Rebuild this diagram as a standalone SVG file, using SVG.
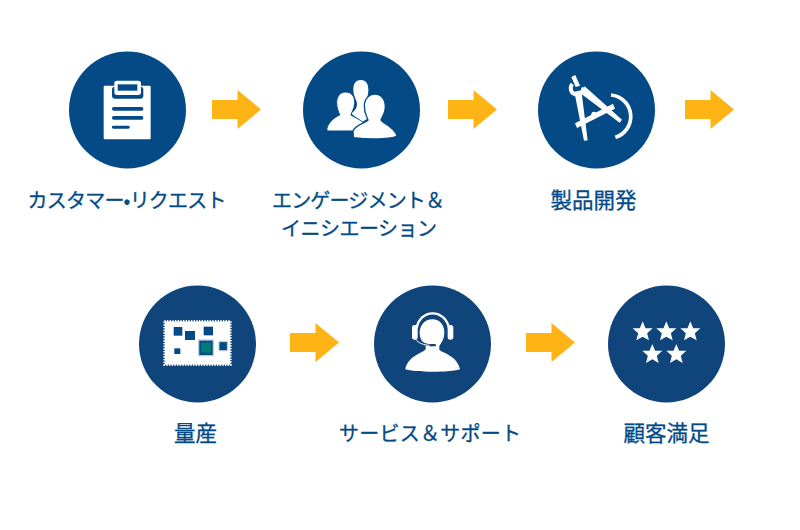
<svg xmlns="http://www.w3.org/2000/svg" width="800" height="530" viewBox="0 0 800 530">
<style>
.top{fill:#034a86}
.bot{fill:#10457c}
.w{fill:#fff}
.b{fill:#034a86}
.arrow{fill:#feb415}
text{font-family:"Noto Sans CJK JP","Noto Sans CJK SC",sans-serif;font-weight:400;font-size:20px;fill:#034a86;stroke:#034a86;stroke-width:.3px;text-anchor:middle}
.k{font-size:21.500px}
</style>
<defs>
<polygon id="star" points="0,-31 8.500,-10.500 30,-10.500 13.500,4.500 19,26 0,15 -19,26 -13.500,4.500 -30,-10.500 -8.500,-10.500"/>
<polygon id="arr" points="0,-9.500 25.500,-9.500 25.500,-19.500 49,0 25.500,19.500 25.500,9.500 0,9.500"/>
</defs>
<rect width="800" height="530" fill="#fff"/>
<g id="connectors" class="arrow">
<use href="#arr" x="212" y="109.500"/>
<use href="#arr" x="448" y="109.500"/>
<use href="#arr" x="685" y="109.500"/>
<use href="#arr" x="290" y="342.500"/>
<use href="#arr" x="526" y="342.500"/>
</g>
<g id="node-request">
<circle class="top" cx="127.500" cy="110" r="58.500"/>
<g transform="translate(60,40) scale(.33333)">
<rect class="w" x="131" y="137" width="141" height="161" rx="3"/>
<rect class="b" x="156" y="140" width="94" height="36" rx="9"/>
<rect class="w" x="163" y="122" width="80" height="43" rx="8"/>
<rect class="b" x="173" y="133" width="59" height="19"/>
<rect class="b" x="156" y="201" width="94" height="11" rx="5"/>
<rect class="b" x="156" y="228" width="94" height="11" rx="5"/>
<rect class="b" x="156" y="257" width="53" height="9" rx="4"/>
</g>
<text x="127" y="208" textLength="199" lengthAdjust="spacing">カスタマー•リクエスト</text>
</g>
<g id="node-engagement">
<circle class="top" cx="361.500" cy="110" r="58.500"/>
<g transform="translate(295,45) scale(.33333)">
<path class="w" d="M197 105C214 105 221 118 220 138C219 160 208 178 208 195C208 205 212 212 222 218L200 232L168 205C180 198 186 190 186 178C186 165 175 155 175 135C175 116 182 105 197 105Z"/>
<path class="w" stroke="#034a86" stroke-width="3" d="M152 141C170 141 180 155 179 175C178 192 170 200 168 210C175 216 195 222 208 236L205 258L96 258C92 240 115 218 134 210C131 200 125 190 125 173C125 155 135 141 152 141Z"/>
<path class="w" stroke="#034a86" stroke-width="4" d="M240 147C258 147 271 162 271 185C271 203 262 215 258 225C262 235 298 245 306 272C300 280 240 286 175 278L174 258C180 240 210 235 219 225C215 215 208 203 208 183C208 162 222 147 240 147Z"/>
</g>
<text x="358.500" y="208" textLength="173" lengthAdjust="spacing">エンゲージメント＆</text>
<text x="359" y="235.500" textLength="156" lengthAdjust="spacing">イニシエーション</text>
</g>
<g id="node-development">
<circle class="top" cx="596.500" cy="110" r="58.500"/>
<g transform="translate(530,45) scale(.33333)">
<path fill="none" stroke="#fff" stroke-width="11" d="M243 150A65 65 0 0 1 256 277"/>
<path fill="none" stroke="#fff" stroke-width="12" d="M127 117A19 19 0 1 0 160 127"/>
<path class="w" d="M124 96L136 90L150 122L137 126Z"/>
<path class="w" d="M133 140L154 136L173 286L162 287Z"/>
<path class="w" d="M150 144L164 124L276 224L269 233Z"/>
<path class="w" d="M135 235L249 176L255 191L141 249Z"/>
<circle class="w" cx="192" cy="208" r="8"/>
</g>
<text x="593.500" y="208" class="k">製品開発</text>
</g>
<g id="node-production">
<circle class="bot" cx="197.500" cy="344" r="58.500"/>
<g transform="translate(130,280) scale(.33333)">
<rect class="w" x="104" y="124" width="197" height="130"/>
<rect fill="none" stroke="#fff" stroke-width="6" stroke-dasharray="4 4" x="103" y="123" width="199" height="132"/>
<rect class="b" x="131" y="141" width="26" height="26"/>
<rect class="b" x="165" y="153" width="30" height="27"/>
<rect class="b" x="221" y="140" width="28" height="26"/>
<rect class="b" x="133" y="205" width="18" height="17"/>
<rect class="b" stroke="#b8cfe0" stroke-width="3" x="267" y="185" width="25" height="27"/>
<rect class="b" stroke="#b8cfe0" stroke-width="4" x="206" y="180" width="44" height="47"/>
<rect fill="#007a78" x="213" y="188" width="30" height="30"/>
</g>
<text x="195.500" y="441" class="k">量産</text>
</g>
<g id="node-service">
<circle class="bot" cx="432.500" cy="344" r="58.500"/>
<g transform="translate(368,280) scale(.33333)">
<path class="w" d="M193 118C216 118 230 136 229 160C228 178 220 190 214 197L214 210C227 220 268 228 276 268C250 278 140 278 112 268C120 228 163 220 173 208L173 197C163 188 155 175 155 158C155 136 170 118 193 118Z"/>
<path fill="none" stroke="#fff" stroke-width="7" d="M146 145C150 118 170 100 194 100C218 100 238 118 243 145"/>
<rect class="w" x="132" y="135" width="17" height="44" rx="8"/>
<rect class="w" x="239" y="135" width="17" height="44" rx="8"/>
<path fill="none" stroke="#10457c" stroke-width="6" d="M152 178C160 190 175 196 195 196"/>
<path fill="none" stroke="#fff" stroke-width="3" d="M142 176C150 190 168 195 185 196"/>
<rect x="185" y="192" width="19" height="7" rx="3.500" fill="#10457c"/>
</g>
<text x="430" y="441" textLength="182" lengthAdjust="spacing">サービス＆サポート</text>
</g>
<g id="node-satisfaction">
<circle class="bot" cx="666.500" cy="344" r="58.500"/>
<g class="w" transform="translate(602,280) scale(.33333)">
<use href="#star" x="122" y="155"/>
<use href="#star" x="193" y="155"/>
<use href="#star" x="265" y="155"/>
<use href="#star" x="151" y="223"/>
<use href="#star" x="223" y="223"/>
</g>
<text x="666.500" y="441" class="k">顧客満足</text>
</g>
</svg>
